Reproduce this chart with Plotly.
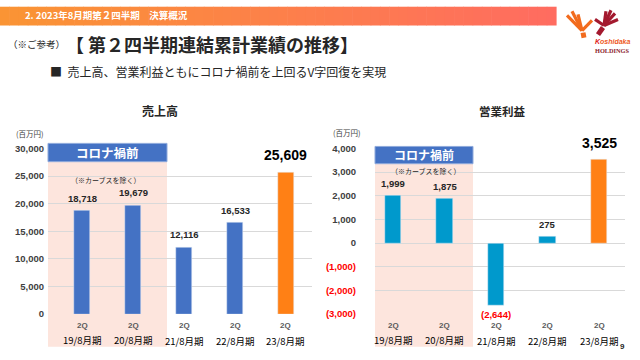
import plotly.graph_objects as go

# ---------------- data ----------------
periods = ["19/8月期", "20/8月期", "21/8月期", "22/8月期", "23/8月期"]
quarter = "2Q"
sales = [18718, 19679, 12116, 16533, 25609]
sales_labels = ["18,718", "19,679", "12,116", "16,533", "25,609"]
op_income = [1999, 1875, -2644, 275, 3525]
op_labels = ["1,999", "1,875", "(2,644)", "275", "3,525"]
sales_tickvals = [0, 5000, 10000, 15000, 20000, 25000, 30000]
sales_ticktext = ["0", "5,000", "10,000", "15,000", "20,000", "25,000", "30,000"]
op_tickvals = [-3000, -2000, -1000, 0, 1000, 2000, 3000, 4000]
op_ticktext = ["(3,000)", "(2,000)", "(1,000)", "0", "1,000", "2,000", "3,000", "4,000"]

W, H = 640, 360
# measured vertical placement of the rendered page: shown_y = 7.8 + 0.954 * figure_y
VOFF, VSCALE = 7.8, 0.954
def PX(x): return x / W
def PY(y): return 1 - ((y - VOFF) / VSCALE) / H

JP = "Noto Sans CJK JP"
NUM = "Liberation Sans, Arial, sans-serif"
BLUE = "#4472C4"
CYAN = "#0099CC"
ORANGE = "#FF8015"
PINK = "#FDE5DD"
DARK = "#262626"

sales_colors = [BLUE] * 4 + [ORANGE]
op_colors = [CYAN] * 4 + [ORANGE]

fig = go.Figure()
fig.add_trace(go.Bar(x=list(range(5)), y=sales, marker_color=sales_colors, width=0.31,
                     xaxis="x", yaxis="y", hoverinfo="skip"))
fig.add_trace(go.Bar(x=list(range(5)), y=op_income, marker_color=op_colors, width=0.32,
                     xaxis="x2", yaxis="y2", hoverinfo="skip"))

op_ticktext_styled = [
    f"<span style='color:#FF0000'>{t}</span>" if v < 0 else t
    for v, t in zip(op_tickvals, op_ticktext)
]

ydom = [PY(311), PY(148)]
fig.update_layout(
    width=W, height=H, margin=dict(l=0, r=0, t=0, b=0),
    paper_bgcolor="white", plot_bgcolor="rgba(0,0,0,0)",
    showlegend=False, bargap=0,
    xaxis=dict(domain=[PX(48), PX(312)], range=[-0.667, 4.51], showticklabels=False,
               showgrid=False, zeroline=False, fixedrange=True),
    yaxis=dict(domain=ydom, range=[0, 30000], tickvals=sales_tickvals, ticktext=sales_ticktext,
               showgrid=True, gridcolor="#D9D9D9", gridwidth=1, zeroline=False,
               tickfont=dict(family=NUM, size=9.5, color="#404040", weight="bold"),
               ticklabelstandoff=3, anchor="x"),
    xaxis2=dict(domain=[PX(375), PX(625)], range=[-0.35, 4.5], showticklabels=False,
                showgrid=False, zeroline=False, anchor="y2"),
    yaxis2=dict(domain=ydom, range=[-3000, 4000], tickvals=op_tickvals, ticktext=op_ticktext_styled,
                showgrid=True, gridcolor="#D9D9D9", gridwidth=1, zeroline=False,
                tickfont=dict(family=NUM, size=9.5, color="#404040", weight="bold"),
                ticklabelstandoff=18, anchor="x2"),
)

shapes = []
# header gradient bar
n = 60
x0, x1 = 0, 556
c0, c1 = (250, 148, 52), (255, 108, 96)
for i in range(n):
    t = i / (n - 1)
    col = tuple(int(round(c0[k] + (c1[k] - c0[k]) * t)) for k in range(3))
    shapes.append(dict(type="rect", xref="paper", yref="paper",
                       x0=PX(x0 + (x1 - x0) * i / n), x1=PX(x0 + (x1 - x0) * (i + 1) / n + 0.6),
                       y0=PY(27), y1=PY(8.5), line_width=0, fillcolor=f"rgb{col}", layer="above"))

# pink pre-covid regions + blue headers
for (bx0, bx1, by0, by1) in [(48, 167, 143, 161), (375, 473, 146, 163)]:
    shapes.append(dict(type="rect", xref="paper", yref="paper", x0=PX(bx0), x1=PX(bx1),
                       y0=PY(343), y1=PY(by1), fillcolor=PINK, line_width=0, layer="below"))
    shapes.append(dict(type="rect", xref="paper", yref="paper", x0=PX(bx0), x1=PX(bx1),
                       y0=PY(by1), y1=PY(by0), fillcolor=BLUE,
                       line=dict(color="#8EA9DB", width=1), layer="above"))

# logo (rough hands)
def strokes(center, tips, color, w):
    for tx, ty in tips:
        shapes.append(dict(type="line", xref="paper", yref="paper",
                           x0=PX(center[0]), y0=PY(center[1]), x1=PX(tx), y1=PY(ty),
                           line=dict(color=color, width=w), layer="above"))

strokes((582, 32), [(567, 17), (572, 13), (578, 16), (592, 22)], "#F26B1D", 3.2)
strokes((583, 34), [(584, 39)], "#F26B1D", 5)
strokes((604, 27), [(606, 13), (611, 12), (615, 15), (618, 21), (595, 21)], "#A3192E", 3.2)
strokes((603, 29), [(598, 36)], "#A3192E", 5)
fig.update_layout(shapes=shapes)

ann = []
def A(x, y, text, size, color=DARK, family=JP, bold=False, xanchor="center", xref="paper", **kw):
    ann.append(dict(x=x, y=y, xref=xref, yref="paper", text=text, showarrow=False,
                    xanchor=xanchor, yanchor="middle",
                    font=dict(family=family, size=size, color=color, weight="bold" if bold else "normal"),
                    **kw))

A(PX(23), PY(17), "2. 2023年8月期第２四半期　決算概況", 9.5, "white", bold=True, xanchor="left")
A(PX(6), PY(45.5), "（※ご参考）", 9.5, DARK, xanchor="left")
A(PX(64), PY(45), "【 第２四半期連結累計業績の推移】", 18, DARK, bold=True, xanchor="left")
A(PX(48), PY(72), "■  売上高、営業利益ともにコロナ禍前を上回るV字回復を実現", 12, DARK, xanchor="left")

A(PX(593), PY(43), "<i><span style='color:#E0201B'>K</span>oshidaka</i>", 7, "#EE5A1E",
  family="Liberation Sans", bold=True, xanchor="left")
A(PX(593), PY(52), "HOLDINGS", 6.3, "#8B1A2B", family="Liberation Serif", bold=True, xanchor="left")

# chart titles and units
A(PX(160), PY(111), "売上高", 12, DARK, bold=True)
A(PX(502), PY(111), "営業利益", 11.5, DARK, bold=True)
A(PX(14), PY(133.5), "(百万円)", 7.5, "#404040", xanchor="left")
A(PX(331), PY(132.5), "(百万円)", 7.5, "#404040", xanchor="left")

# pre-covid header texts
A(PX(107.5), PY(151.5), "コロナ禍前", 12.5, "white", bold=True)
A(PX(424), PY(154), "コロナ禍前", 12, "white", bold=True)
A(PX(106), PY(179.5), "（※カーブスを除く）", 7, DARK)
A(PX(426), PY(170.5), "（※カーブスを除く）", 7, DARK)

# value labels
for i, (v, t) in enumerate(zip(sales, sales_labels)):
    big = i == len(sales) - 1
    ann.append(dict(x=i, y=v, xref="x", yref="y", text=t, showarrow=False,
                    yanchor="bottom", yshift=(8 if big else 5),
                    font=dict(family=NUM, size=(14 if big else 9.5), color=("#000000" if big else DARK),
                              weight="bold")))
for i, (v, t) in enumerate(zip(op_income, op_labels)):
    big = i == len(op_income) - 1
    neg = v < 0
    ann.append(dict(x=i, y=v, xref="x2", yref="y2", text=t, showarrow=False,
                    yanchor=("top" if neg else "bottom"), yshift=(-1 if neg else (7 if big else 5)),
                    font=dict(family=NUM, size=(14 if big else 9.5),
                              color=("#FF0000" if neg else ("#000000" if big else DARK)),
                              weight="bold")))

# category labels
for xr in ["x", "x2"]:
    for i, p in enumerate(periods):
        ann.append(dict(x=i, y=PY(322), xref=xr, yref="paper", text=quarter, showarrow=False,
                        yanchor="middle",
                        font=dict(family=NUM, size=8, color="#595959", weight="bold")))
        ann.append(dict(x=i, y=PY(336 if i < 2 else 337), xref=xr, yref="paper", text=p,
                        showarrow=False, yanchor="middle",
                        font=dict(family=JP, size=9.5, color="#000000")))

A(PX(622), PY(343), "9", 8, DARK, family=NUM, bold=True)

fig.update_layout(annotations=ann)
post = ("var d=document.getElementById('{plot_id}');"
        "d.style.position='fixed';d.style.top='0px';d.style.left='0px';"
        "document.documentElement.style.margin='0';document.documentElement.style.padding='0';"
        "document.body.style.margin='0';document.body.style.padding='0';"
        "document.documentElement.style.height='360px';document.body.style.height='360px';"
        "document.documentElement.style.overflow='hidden';document.body.style.overflow='hidden';")
fig.write_html("out.html", config={"displayModeBar": False}, post_script=post)
